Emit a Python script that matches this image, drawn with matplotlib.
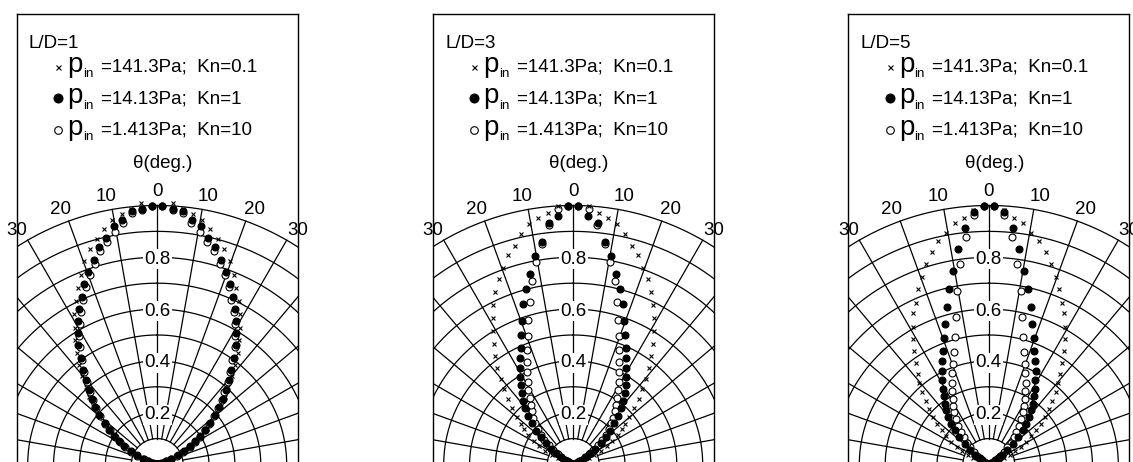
import numpy as np
import matplotlib
matplotlib.use('Agg')
import matplotlib.pyplot as plt

plt.rcParams['font.family'] = ['Liberation Sans', 'DejaVu Sans']
plt.rcParams['axes.linewidth'] = 1.0

# angle bins (deg), one side; the distributions are mirrored about 0
theta = [1.15, 3.46, 5.77, 8.08, 10.38, 12.69, 15.0, 17.31, 19.62, 21.92,
         24.23, 26.54, 28.85, 31.15, 33.46, 35.77, 38.08, 40.38, 42.69, 45.0,
         47.31, 49.62, 51.92, 54.23, 56.54, 58.85, 61.15, 63.46, 65.77, 68.08,
         70.38, 72.69, 75.0, 77.31, 79.62, 81.92, 84.23, 86.54, 88.85]

ld_labels = ['L/D=1', 'L/D=3', 'L/D=5']
series_labels = ['=141.3Pa;  Kn=0.1', '=14.13Pa;  Kn=1', '=1.413Pa;  Kn=10']

# L/D = 1
ld1_kn01 = [1.0, 1.01, 0.99, 0.975, 0.96, 0.931, 0.901, 0.871, 0.836, 0.79,
            0.746, 0.706, 0.663, 0.615, 0.575, 0.531, 0.49, 0.448, 0.405, 0.37,
            0.335, 0.30, 0.265, 0.235, 0.205, 0.176, 0.148, 0.117, 0.088, 0.06,
            0.04, 0.026, 0.016, 0.010, 0.006, 0.004, 0.002, 0.001, 0.0005]
ld1_kn1 = [1.0, 0.99, 0.985, 0.955, 0.935, 0.895, 0.868, 0.825, 0.791, 0.752,
           0.711, 0.672, 0.631, 0.591, 0.552, 0.506, 0.464, 0.426, 0.389, 0.358,
           0.326, 0.293, 0.258, 0.229, 0.199, 0.172, 0.146, 0.114, 0.086, 0.058,
           0.038, 0.024, 0.015, 0.009, 0.006, 0.004, 0.002, 0.001, 0.0005]
ld1_kn10 = [1.0, 0.985, 0.975, 0.94, 0.914, 0.882, 0.853, 0.81, 0.775, 0.738,
            0.698, 0.66, 0.62, 0.58, 0.542, 0.497, 0.456, 0.419, 0.383, 0.352,
            0.321, 0.289, 0.255, 0.226, 0.196, 0.169, 0.143, 0.112, 0.084, 0.057,
            0.037, 0.023, 0.014, 0.009, 0.006, 0.004, 0.002, 0.001, 0.0005]

# L/D = 3
ld3_kn01 = [1.0, 1.0, 0.977, 0.963, 0.943, 0.912, 0.875, 0.846, 0.806, 0.770,
            0.732, 0.690, 0.645, 0.601, 0.556, 0.517, 0.474, 0.431, 0.394, 0.357,
            0.321, 0.285, 0.256, 0.232, 0.207, 0.177, 0.15, 0.12, 0.09, 0.065,
            0.045, 0.03, 0.02, 0.013, 0.008, 0.005, 0.003, 0.002, 0.001]
ld3_kn1 = [1.0, 0.962, 0.936, 0.869, 0.819, 0.754, 0.700, 0.648, 0.588, 0.537,
           0.495, 0.458, 0.424, 0.396, 0.367, 0.339, 0.313, 0.286, 0.255, 0.225,
           0.193, 0.165, 0.135, 0.105, 0.078, 0.056, 0.04, 0.028, 0.02, 0.014,
           0.01, 0.007, 0.005, 0.004, 0.003, 0.002, 0.001, 0.001, 0.0005]
ld3_kn10 = [1.0, 0.988, 0.93, 0.86, 0.793, 0.727, 0.651, 0.585, 0.525, 0.477,
            0.435, 0.400, 0.364, 0.335, 0.306, 0.282, 0.26, 0.238, 0.216, 0.193,
            0.17, 0.146, 0.12, 0.095, 0.072, 0.053, 0.038, 0.027, 0.019, 0.013,
            0.009, 0.007, 0.005, 0.004, 0.003, 0.002, 0.001, 0.001, 0.0005]

# L/D = 5
ld5_kn01 = [1.0, 0.985, 0.958, 0.940, 0.910, 0.885, 0.849, 0.811, 0.767, 0.731,
            0.684, 0.653, 0.607, 0.567, 0.524, 0.483, 0.445, 0.414, 0.380, 0.345,
            0.314, 0.283, 0.254, 0.225, 0.197, 0.17, 0.142, 0.115, 0.088, 0.064,
            0.045, 0.03, 0.02, 0.013, 0.008, 0.005, 0.003, 0.002, 0.001]
ld5_kn1 = [1.0, 0.975, 0.919, 0.840, 0.760, 0.694, 0.628, 0.567, 0.519, 0.472,
           0.437, 0.404, 0.372, 0.342, 0.316, 0.290, 0.266, 0.242, 0.214, 0.186,
           0.154, 0.123, 0.09, 0.065, 0.046, 0.032, 0.022, 0.015, 0.01, 0.007,
           0.005, 0.004, 0.003, 0.002, 0.0015, 0.001, 0.001, 0.0005, 0.0]
ld5_kn10 = [1.0, 0.965, 0.884, 0.782, 0.681, 0.585, 0.511, 0.454, 0.412, 0.379,
            0.346, 0.316, 0.290, 0.266, 0.243, 0.215, 0.19, 0.165, 0.143, 0.12,
            0.098, 0.075, 0.056, 0.042, 0.031, 0.022, 0.016, 0.011, 0.008, 0.006,
            0.004, 0.003, 0.002, 0.0015, 0.001, 0.001, 0.0005, 0.0, 0.0]

panels = [(ld1_kn01, ld1_kn1, ld1_kn10),
          (ld3_kn01, ld3_kn1, ld3_kn10),
          (ld5_kn01, ld5_kn1, ld5_kn10)]

W, H = 1133, 462
PW, PH = 281.0, 450.2          # panel box in pixels
lefts = [16.7, 432.7, 848.3]   # panel left edges in pixels
XMAX = 0.5425
YMAX = 1.738
FS = 13.5


def mirror(r):
    th = np.radians(theta)
    r = np.asarray(r)
    x = np.concatenate([-(r * np.sin(th))[::-1], r * np.sin(th)])
    y = np.concatenate([(r * np.cos(th))[::-1], r * np.cos(th)])
    return x, y


def draw_grid(ax):
    t = np.linspace(0, 2 * np.pi, 721)
    for r in np.arange(1, 11) / 10.0:
        ax.plot(r * np.sin(t), r * np.cos(t), color='k', lw=0.9, zorder=1)
    for a in range(0, 360, 10):
        ar = np.radians(a)
        ax.plot([0.1 * np.sin(ar), np.sin(ar)], [0.1 * np.cos(ar), np.cos(ar)],
                color='k', lw=0.9, zorder=1)
    for r in [0.2, 0.4, 0.6, 0.8]:
        ax.text(0, r, '%.1f' % r, ha='center', va='center_baseline', fontsize=FS,
                bbox=dict(boxstyle='square,pad=0.08', fc='white', ec='none'), zorder=2)
    for a in [0, 10, 20, 30]:
        sides = [1] if a == 0 else [-1, 1]
        for s in sides:
            ang = np.radians(s * (a + 0.7 if a else 0))
            ax.text(1.06 * np.sin(ang), 1.06 * np.cos(ang), str(a), ha='center',
                    va='center_baseline', fontsize=FS, clip_on=False)


def ap(dx, dy):
    return dx / PW, 1 - dy / PH


fig = plt.figure(figsize=(W / 100.0, H / 100.0), dpi=100)

for i, (kn01, kn1, kn10) in enumerate(panels):
    ax = fig.add_axes([lefts[i] / W, (H - 464.5) / H, PW / W, PH / H])
    ax.set_xlim(-XMAX, XMAX)
    ax.set_ylim(0, YMAX)
    ax.set_xticks([])
    ax.set_yticks([])
    draw_grid(ax)

    x, y = mirror(kn10)
    ax.plot(x, y, 'o', ms=5.0, mfc='white', mec='k', mew=0.8, zorder=3)
    x, y = mirror(kn1)
    ax.plot(x, y, 'o', ms=5.0, mfc='k', mec='k', mew=0.8, zorder=4)
    x, y = mirror(kn01)
    ax.plot(x, y, 'x', ms=3.3, color='k', mew=0.8, zorder=5)

    # legend block
    ax.text(*ap(12.3, 34), ld_labels[i], transform=ax.transAxes, fontsize=FS, va='baseline')
    styles = [dict(marker='x', ms=3.6, color='k', mew=0.8),
              dict(marker='o', ms=6.2, mfc='k', mec='k'),
              dict(marker='o', ms=5.5, mfc='white', mec='k', mew=0.8)]
    for j, lab in enumerate(series_labels):
        base = 57.2 + 31.7 * j
        ax.plot(*ap(41.5, base - 4.8), transform=ax.transAxes, clip_on=False,
                linestyle='none', **styles[j])
        ax.text(*ap(50.5, base), 'p', transform=ax.transAxes, fontsize=20, va='baseline')
        ax.text(*ap(66.0, base + 5.5), 'in', transform=ax.transAxes, fontsize=9.5, va='baseline')
        ax.text(*ap(84.0, base), lab, transform=ax.transAxes, fontsize=FS, va='baseline')
    ax.text(*ap(146, 153.7), '\u03b8(deg.)', transform=ax.transAxes, fontsize=FS,
            ha='center', va='baseline')

fig.savefig('out.png', dpi=100)
